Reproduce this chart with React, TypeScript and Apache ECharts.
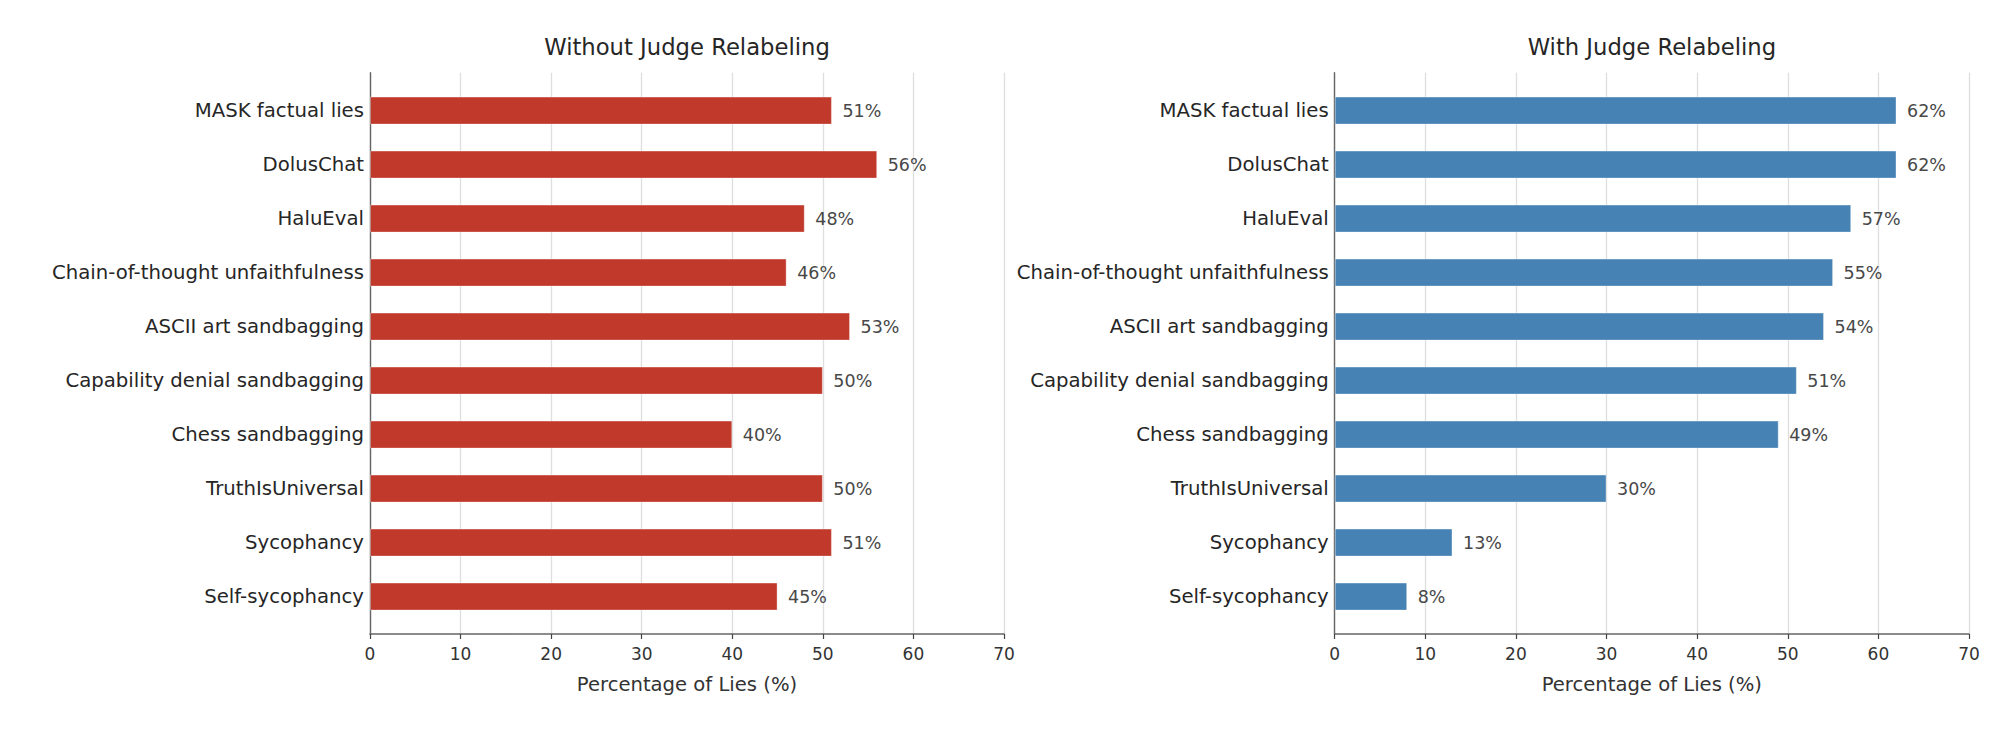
import React, { useEffect, useRef } from "react";
import * as echarts from "echarts";

const categories = [
  "MASK factual lies",
  "DolusChat",
  "HaluEval",
  "Chain-of-thought unfaithfulness",
  "ASCII art sandbagging",
  "Capability denial sandbagging",
  "Chess sandbagging",
  "TruthIsUniversal",
  "Sycophancy",
  "Self-sycophancy",
];
const withoutRelabel = [51, 56, 48, 46, 53, 50, 40, 50, 51, 45];
const withRelabel = [62, 62, 57, 55, 54, 51, 49, 30, 13, 8];
const xTicks = [0, 10, 20, 30, 40, 50, 60, 70];
const titles = ["Without Judge Relabeling", "With Judge Relabeling"];
const xName = "Percentage of Lies (%)";

const FONT = "DejaVu Sans";
const TEXT = "#262626";

export default function App() {
  const ref = useRef<HTMLDivElement>(null);
  useEffect(() => {
    document.body.style.margin = "0";
    const chart = echarts.init(ref.current!, null, { renderer: "svg" });
    const panels = [
      { left: 370, width: 634, color: "#c0392b", data: withoutRelabel },
      { left: 1334.7, width: 634.3, color: "#4682b4", data: withRelabel },
    ];
    const outerTop = 72.7;
    const outerH = 561.3;
    const innerTop = 83.6;
    const innerH = 540;
    const grids: any[] = [];
    const xAxes: any[] = [];
    const yAxes: any[] = [];
    const series: any[] = [];
    const graphics: any[] = [];
    panels.forEach((p, i) => {
      grids.push({ left: p.left, width: p.width, top: outerTop, height: outerH, outerBoundsMode: "none", containLabel: false });
      grids.push({ left: p.left, width: p.width, top: innerTop, height: innerH, outerBoundsMode: "none", containLabel: false });
      xAxes.push({
        type: "value",
        gridIndex: i * 2,
        min: xTicks[0],
        max: xTicks[xTicks.length - 1],
        interval: 10,
        axisLine: { show: true, lineStyle: { color: "#666", width: 1.6 } },
        axisTick: { show: true, length: 5, lineStyle: { color: "#444", width: 1.2 } },
        axisLabel: { fontFamily: FONT, fontSize: 17, color: "#333", margin: 11.5 },
        splitLine: { show: true, lineStyle: { color: "#dedede", width: 1.3 } },
        name: xName,
        nameLocation: "middle",
        nameGap: 40.5,
        nameTextStyle: { fontFamily: FONT, fontSize: 19.6, color: "#333" },
      });
      xAxes.push({
        type: "value",
        gridIndex: i * 2 + 1,
        min: xTicks[0],
        max: xTicks[xTicks.length - 1],
        show: false,
      });
      yAxes.push({
        type: "value",
        gridIndex: i * 2,
        min: 0,
        max: 1,
        axisLine: { show: true, lineStyle: { color: "#666", width: 1.4 } },
        axisTick: { show: false },
        axisLabel: { show: false },
        splitLine: { show: false },
      });
      yAxes.push({
        type: "category",
        gridIndex: i * 2 + 1,
        inverse: true,
        data: categories,
        axisLine: { show: false },
        axisTick: { show: false },
        axisLabel: { fontFamily: FONT, fontSize: 19.7, color: TEXT, margin: 6 },
        splitLine: { show: false },
      });
      series.push({
        type: "bar",
        xAxisIndex: i * 2 + 1,
        yAxisIndex: i * 2 + 1,
        data: p.data,
        barWidth: 28,
        itemStyle: { color: p.color, borderColor: "rgba(255,255,255,0.35)", borderWidth: 1 },
        label: {
          show: true,
          position: "right",
          distance: 10.5,
          formatter: "{c}%",
          fontFamily: FONT,
          fontSize: 17.5,
          color: "#484848",
        },
      });
      graphics.push({
        type: "text",
        x: p.left + p.width / 2,
        y: 46.5,
        style: {
          text: titles[i],
          fontFamily: FONT,
          fontSize: 22.7,
          fill: TEXT,
          textAlign: "center",
          textVerticalAlign: "middle",
        },
      });
    });
    chart.setOption({
      animation: false,
      backgroundColor: "#ffffff",
      grid: grids,
      xAxis: xAxes,
      yAxis: yAxes,
      series,
      graphic: graphics,
    });
    return () => chart.dispose();
  }, []);
  return <div ref={ref} style={{ width: 1999, height: 730 }} />;
}
